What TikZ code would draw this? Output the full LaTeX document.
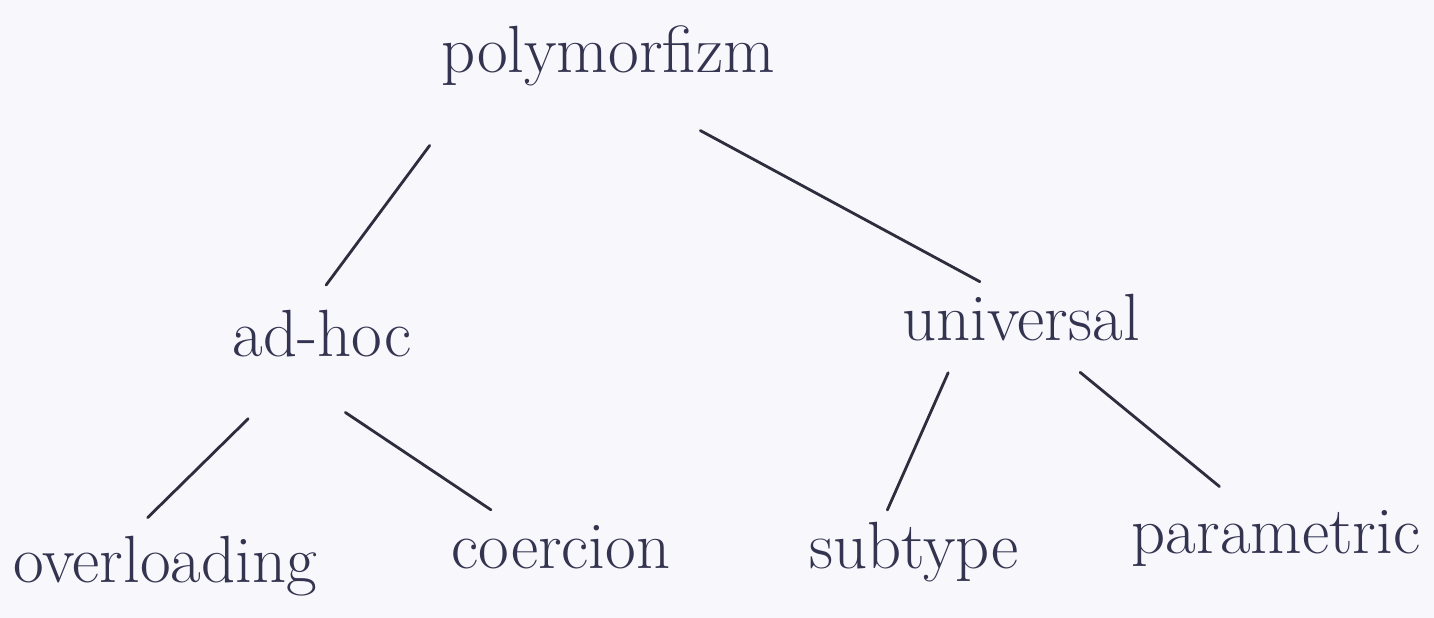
\documentclass[tikz,border=0pt]{standalone}
\usepackage{tikz}

\definecolor{paper}{RGB}{247,247,252}
\definecolor{ink}{RGB}{52,52,80}
\definecolor{penline}{RGB}{45,45,62}

\begin{document}
\begin{tikzpicture}[x=0.02cm, y=-0.02cm,
  word/.style={anchor=base, inner sep=0pt, text height=25pt, text depth=7pt,
    font=\fontsize{38}{42}\selectfont, text=ink},
  branch/.style={color=penline, line width=1.6pt, line cap=round}]

  % Sheet of paper
  \fill[paper] (0,0) rectangle (1434,618) ;
  \useasboundingbox (0,0) rectangle (1434,618) ;

  %%%%%%%%%%%%%%%%%%%%%%%%%%%%%%%%% Words of the tree %%%%%%%%%%%%%%%%%%%%%%%%%%%%%%%%%%%%

  % Root
  \draw (608,73) node[word] (poly) {polymorfizm} ;

  % Second level
  \draw (322,357) node[word] (adhoc) {ad-hoc} ;
  \draw (1021,340) node[word] (universal) {universal} ;

  % Leaves
  \draw (165,582) node[word] (overloading) {overloading} ;
  \draw (561,568) node[word] (coercion) {coercion} ;
  \draw (914,568) node[word] (subtype) {subtype} ;
  \draw (1276,553) node[word] (parametric) {parametric} ;

  %%%%%%%%%%%%%%%%%%%%%%%%%%%%%%%%%%%% Branches %%%%%%%%%%%%%%%%%%%%%%%%%%%%%%%%%%%%%%%%%%%
  \draw[branch, shorten <=1.49cm, shorten >=0.69cm] (poly.192) -- (adhoc.120) ;
  \draw[branch, shorten <=1.89cm, shorten >=0.59cm] (poly.288) -- (universal.118) ;

  \draw[branch, shorten <=1.40cm, shorten >=0.57cm] (adhoc.230) -- (overloading.143) ;
  \draw[branch, shorten <=1.54cm, shorten >=0.50cm] (adhoc.215) -- (coercion.150) ;

  \draw[branch, shorten <=0.44cm, shorten >=0.30cm] (universal.204) -- (subtype.139) ;
  \draw[branch, shorten <=0.62cm, shorten >=0.70cm] (universal.321) -- (parametric.136) ;

\end{tikzpicture}
\end{document}
